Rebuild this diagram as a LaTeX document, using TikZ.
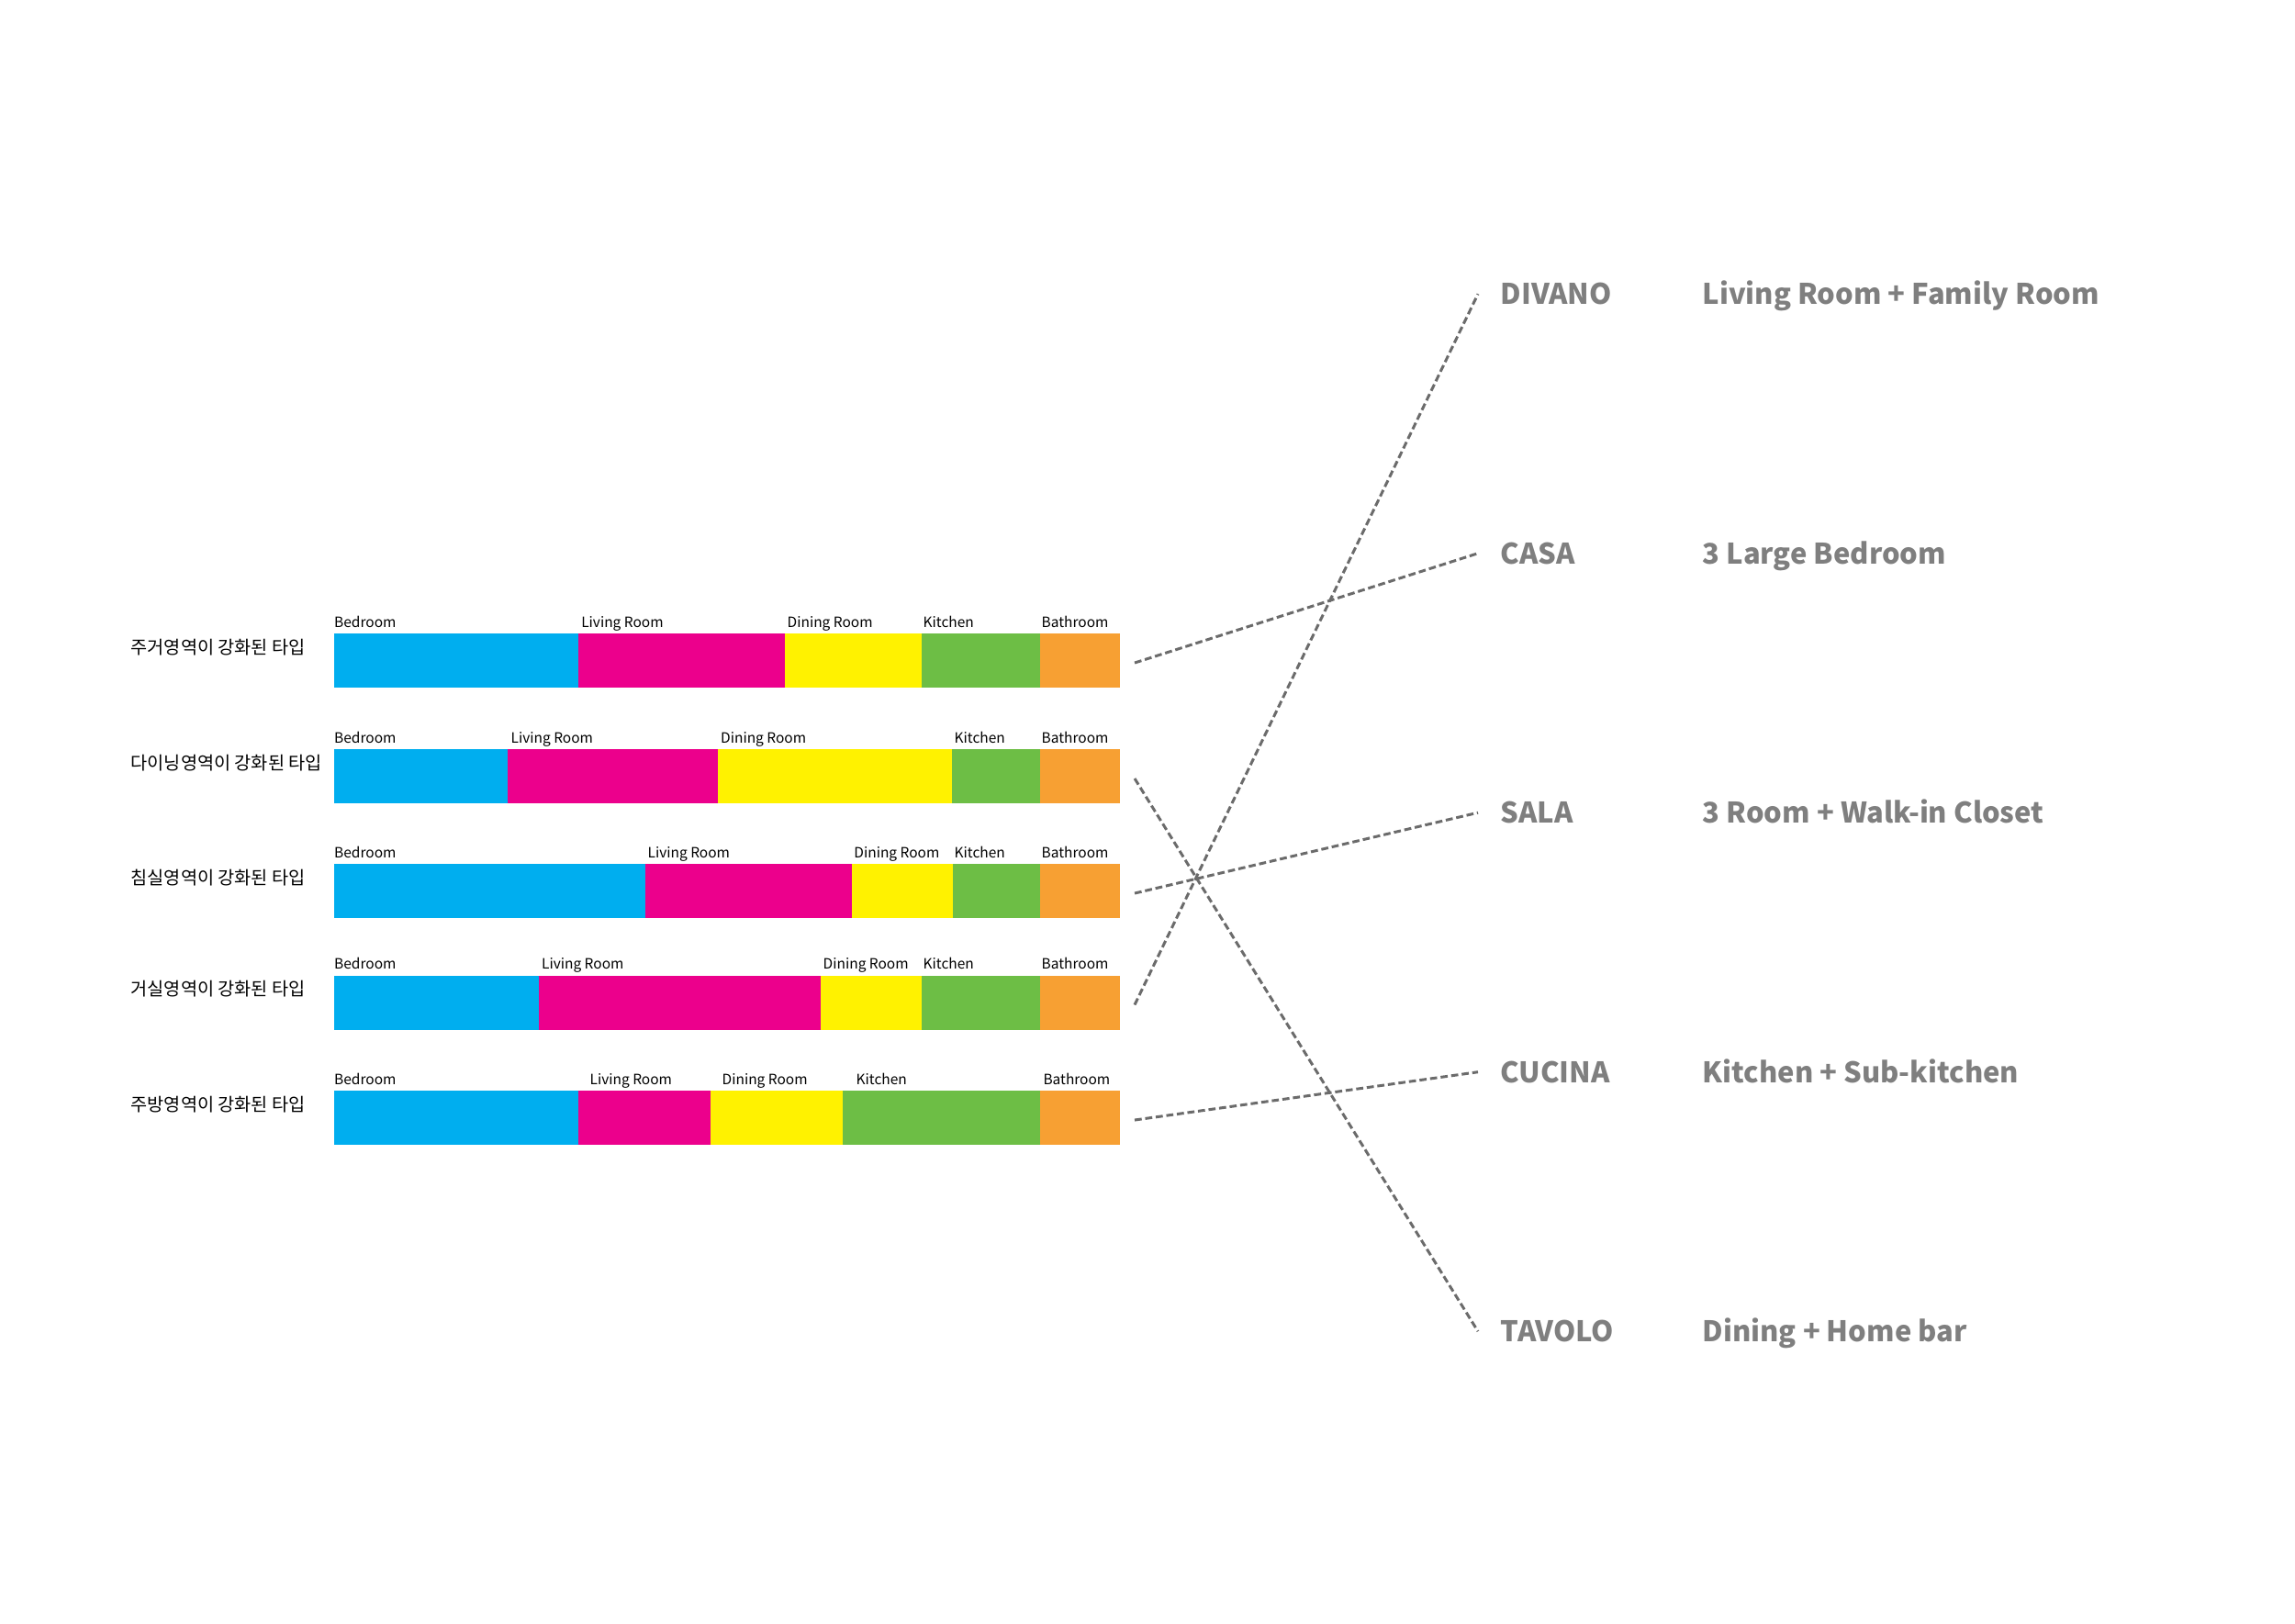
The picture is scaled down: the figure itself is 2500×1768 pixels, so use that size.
\documentclass[tikz,border=0pt]{standalone}
\usepackage{fontspec}
\setmainfont{Noto Sans CJK KR}
\usetikzlibrary{positioning}
\definecolor{bed}{HTML}{00AEEF}
\definecolor{liv}{HTML}{EC008C}
\definecolor{din}{HTML}{FFF200}
\definecolor{kit}{HTML}{6DBE45}
\definecolor{bath}{HTML}{F7A033}
\definecolor{ink2}{HTML}{6B6B6B}
\definecolor{tagc}{HTML}{7F7F7F}
\tikzset{
  room/.style={font=\fontsize{4.4}{5}\selectfont, anchor=base west, inner sep=0pt},
  kor/.style={font=\fontsize{5.6}{6.5}\selectfont, anchor=west, inner sep=0pt},
  tag/.style={font=\fontsize{8.8}{10}\selectfont\bfseries, text=tagc, anchor=base west, inner ysep=0pt, inner xsep=0.24cm},
  link/.style={ink2, line width=0.85pt, dash pattern=on 2.2pt off 1.1pt},
}
\begin{document}
\begin{tikzpicture}[x=0.01cm, y=-0.01cm]
  \useasboundingbox (0,0) rectangle (2500,1768);
  % one bar per type: left/right/label x/colour/label
  \foreach \row/\yt/\kr/\segs in {
    1/690/주거영역이 강화된 타입/{363.5/629.7/363.5/bed/Bedroom, 629.7/854.9/632.6/liv/Living Room, 854.9/1003.8/857/din/Dining Room, 1003.8/1132.8/1005/kit/Kitchen, 1132.8/1220/1134/bath/Bathroom},
    2/816/다이닝영역이 강화된 타입/{363.5/553.4/363.5/bed/Bedroom, 553.4/782.3/556/liv/Living Room, 782.3/1036.8/784.5/din/Dining Room, 1036.8/1132.8/1039/kit/Kitchen, 1132.8/1220/1134/bath/Bathroom},
    3/941/침실영역이 강화된 타입/{363.5/703.1/363.5/bed/Bedroom, 703.1/928.2/705/liv/Living Room, 928.2/1037.5/929.7/din/Dining Room, 1037.5/1132.8/1039/kit/Kitchen, 1132.8/1220/1134/bath/Bathroom},
    4/1062.5/거실영역이 강화된 타입/{363.5/587.2/363.5/bed/Bedroom, 587.2/893.7/589.4/liv/Living Room, 893.7/1003.8/896/din/Dining Room, 1003.8/1132.8/1005/kit/Kitchen, 1132.8/1220/1134/bath/Bathroom},
    5/1188/주방영역이 강화된 타입/{363.5/629.7/363.5/bed/Bedroom, 629.7/773.5/642/liv/Living Room, 773.5/918/786/din/Dining Room, 918/1132.8/932/kit/Kitchen, 1132.8/1220/1135.8/bath/Bathroom}}{
    \node[kor] (t\row) at (142,\yt+15) {\kr};
    \foreach \xa/\xb/\lx/\col/\txt in \segs {
      \fill[\col] (\xa,\yt) rectangle (\xb,\yt+59);
      \node[room] (l\row-\col) at (\lx,\yt-7) {\txt};
    }
    \coordinate (bar\row) at (1236,\yt+32);
  }
  % types on the right
  \foreach \id/\tname/\desc [count=\k] in {divano/DIVANO/Living Room + Family Room, casa/CASA/3 Large Bedroom, sala/SALA/3 Room + Walk-in Closet, cucina/CUCINA/Kitchen + Sub-kitchen, tavolo/TAVOLO/Dining + Home bar}{
    \node[tag] (\id) at (1610,331.7+282.5*\k-282.5) {\tname};
    \node[tag] (\id-d) at (1830,331.7+282.5*\k-282.5) {\desc};
  }
  \foreach \a/\b in {bar1/casa,bar2/tavolo,bar3/sala,bar4/divano,bar5/cucina} \draw[link] (\a) -- (\b.west);
\end{tikzpicture}
\end{document}
